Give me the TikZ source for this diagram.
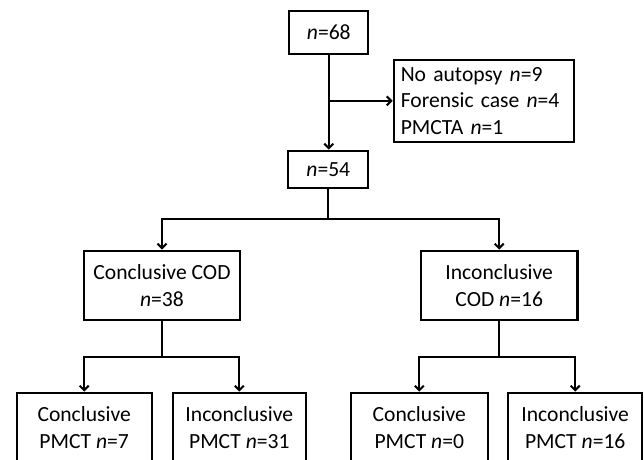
\documentclass[tikz,border=0pt]{standalone}
\usepackage{fontspec}
\setmainfont{Carlito}
\usetikzlibrary{arrows.meta}
\tikzset{
  box/.style={draw=black, line width=2.2pt, inner sep=0pt, align=center,
    font=\fontsize{21.6}{26.7}\selectfont},
  conn/.style={draw=black, line width=2pt},
  arr/.style={conn, -{Straight Barb[length=4.5pt,width=9pt,line width=2pt]}}
}
\begin{document}
\begin{tikzpicture}[x=1pt,y=-1pt]
\clip (0,0) rectangle (644,459);
\fill[white] (0,0) rectangle (644,459);
\node[box, minimum width=79pt, minimum height=43pt] (n68) at (328.8,32.5) {\textit{n}=68};
\node[box, minimum width=180.3pt, minimum height=81.7pt, inner xsep=7pt, text width=166.3pt, align=left] (side) at (483.9,100.9)
  {No autopsy \textit{n}=9\\Forensic case \textit{n}=4\\PMCTA \textit{n}=1};
\node[box, minimum width=80pt, minimum height=37pt] (n54) at (328.3,169.2) {\textit{n}=54};
\node[box, minimum width=156.5pt, minimum height=69.3pt] (ccod) at (162,285.3) {Conclusive COD\\\textit{n}=38};
\node[box, minimum width=156.7pt, minimum height=69.3pt] (icod) at (499.2,285.3) {Inconclusive\\COD \textit{n}=16};
\node[box, minimum width=135pt, minimum height=69.6pt] (b1) at (84.2,427.5) {Conclusive\\PMCT \textit{n}=7};
\node[box, minimum width=133.3pt, minimum height=69.6pt] (b2) at (239.3,427.5) {Inconclusive\\PMCT \textit{n}=31};
\node[box, minimum width=136.7pt, minimum height=69.6pt] (b3) at (419.3,427.5) {Conclusive\\PMCT \textit{n}=0};
\node[box, minimum width=133.7pt, minimum height=69.6pt] (b4) at (575.2,427.5) {Inconclusive\\PMCT \textit{n}=16};
% connectors
\coordinate (k0) at (n68.south |- side.west);
\draw[arr] (n68.south) -- (n68.south |- n54.north);
\draw[arr] (k0) -- (side.west);
\coordinate (k1) at (n54.south |- 0,219);
\draw[conn] (n54.south) -- (k1);
\draw[arr] (k1) -| (ccod.north);
\draw[arr] (k1) -| (icod.north);
\coordinate (k2) at (ccod.south |- 0,357);
\draw[conn] (ccod.south) -- (k2);
\draw[arr] (k2) -| (b1.north);
\draw[arr] (k2) -| (b2.north);
\coordinate (k3) at (icod.south |- 0,357);
\draw[conn] (icod.south) -- (k3);
\draw[arr] (k3) -| (b3.north);
\draw[arr] (k3) -| (b4.north);
\end{tikzpicture}
\end{document}
